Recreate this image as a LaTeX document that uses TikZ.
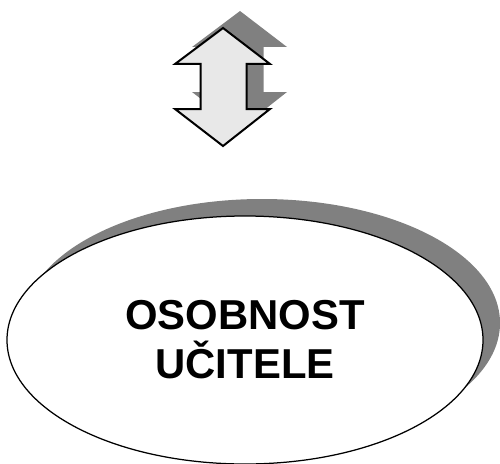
\documentclass[tikz,border=0pt]{standalone}
\usepackage{fontspec}
\setmainfont{Liberation Sans}
\usetikzlibrary{shapes.geometric}
\definecolor{shadowgray}{HTML}{808080}
\definecolor{arrowgray}{HTML}{E8E8E8}
\tikzset{
  arrowline/.style = {line width=0.4mm, line join=miter, fill=arrowgray},
  shadowfill/.style = {fill=shadowgray, draw=none},
  bigoval/.style = {ellipse, draw, line width=0.25mm, fill=white, minimum width=9.52cm, minimum height=4.96cm, inner sep=0pt, align=center, font=\bfseries\fontsize{23.8}{27.8}\selectfont}
}
\begin{document}
\begin{tikzpicture}
  \useasboundingbox (0, 0) rectangle (10, 9.26);
  \fill[shadowgray] (5.24, 2.80) ellipse (4.76 and 2.48);
  \node[bigoval] (osobnost) at (4.9, 2.46) {OSOBNOST\\UČITELE};
  \fill[shadowgray, shift={(0.34, 0.34)}] (4.46, 8.70) -- (5.4, 7.98) -- (4.93, 7.98) -- (4.93, 7.08) -- (5.4, 7.08) -- (4.46, 6.34) -- (3.5, 7.08) -- (4.01, 7.08) -- (4.01, 7.98) -- (3.5, 7.98) -- cycle;
  \draw[arrowline] (4.46, 8.70) -- (5.4, 7.98) -- (4.93, 7.98) -- (4.93, 7.08) -- (5.4, 7.08) -- (4.46, 6.34) -- (3.5, 7.08) -- (4.01, 7.08) -- (4.01, 7.98) -- (3.5, 7.98) -- cycle;
\end{tikzpicture}
\end{document}
